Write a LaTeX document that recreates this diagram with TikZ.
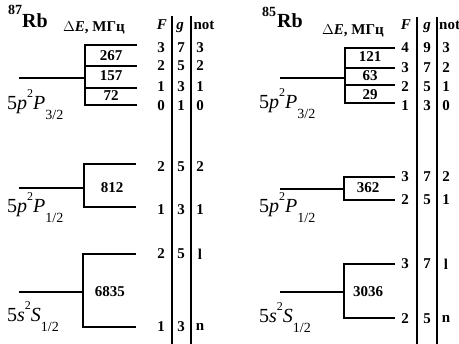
\documentclass[tikz,border=0pt]{standalone}
\usepackage{fontspec}
\setmainfont{Liberation Serif}
\newcommand{\fs}[1]{\fontsize{#1}{#1}\selectfont}
\newcommand{\trm}[3]{5\textit{#1}\raisebox{0.62em}{\fs{12}2}\textit{#2}\raisebox{-0.5em}{\fs{14}#3}}
\begin{document}
\begin{tikzpicture}[x=1pt,y=-1pt,
  lvl/.style={line width=1.7pt},
  bar/.style={line width=1.5pt},
  num/.style={font=\fs{15}\bfseries, inner sep=0pt},
  term/.style={font=\fs{20}, inner sep=0pt, anchor=base west},
  hdr/.style={font=\fs{15}\bfseries, inner sep=0pt, anchor=base},
  de/.style={font=\fs{15}\bfseries, inner sep=0pt, anchor=base west},
  iso/.style={font=\fs{14}\bfseries, inner sep=0pt, anchor=base west},
  el/.style={font=\fs{20}\bfseries, inner sep=0pt, anchor=base west}]
\useasboundingbox (0,0) rectangle (459,344);
% ---------- 87Rb ----------
\node[iso] (iso87) at (8,15) {87};
\node[el] (rb87) at (22,28) {Rb};
\node[de] (de87) at (63,32) {$\Delta$\textit{E}, МГц};
\node[hdr] (hF87) at (162,30) {\textit{F}};
\node[hdr] (hg87) at (180,30) {\textit{g}};
\node[hdr] (hn87) at (204,30) {not};
\coordinate (lb1t) at (172,16); \coordinate (lb1b) at (172,344);
\coordinate (lb2t) at (191,16); \coordinate (lb2b) at (191,344);
\draw[bar] (lb1t) -- (lb1b);
\draw[bar] (lb2t) -- (lb2b);
% 5p P3/2
\coordinate (a0) at (19,78); \coordinate (aj) at (85,78);
\coordinate (a1) at (85,45); \coordinate (a1e) at (137,45);
\coordinate (a2) at (85,66); \coordinate (a2e) at (137,66);
\coordinate (a3) at (85,88); \coordinate (a3e) at (137,88);
\coordinate (a4) at (85,105); \coordinate (a4e) at (137,105);
\draw[lvl] (a0) -- (aj);
\draw[lvl] (a1e) -- (a1) -- (a4) -- (a4e);
\draw[lvl] (a2) -- (a2e);
\draw[lvl] (a3) -- (a3e);
\node[num] (n267) at (111,56) {267};
\node[num] (n157) at (111,76) {157};
\node[num] (n72) at (111,96) {72};
\node[term] (t87a) at (7,110) {\trm{p}{P}{3/2}};
% 5p P1/2
\coordinate (b0) at (19,188); \coordinate (bj) at (84,188);
\coordinate (b1) at (84,164); \coordinate (b1e) at (136,164);
\coordinate (b2) at (84,207); \coordinate (b2e) at (136,207);
\draw[lvl] (b0) -- (bj);
\draw[lvl] (b1e) -- (b1) -- (b2) -- (b2e);
\node[num] (n812) at (112,188) {812};
\node[term] (t87b) at (7,213) {\trm{p}{P}{1/2}};
% 5s S1/2
\coordinate (c0) at (19,292); \coordinate (cj) at (83,292);
\coordinate (c1) at (83,254); \coordinate (c1e) at (136,254);
\coordinate (c2) at (83,327); \coordinate (c2e) at (136,327);
\draw[lvl] (c0) -- (cj);
\draw[lvl] (c1e) -- (c1) -- (c2) -- (c2e);
\node[num] (n6835) at (110,292) {6835};
\node[term] (t87c) at (7,322) {\trm{s}{S}{1/2}};
\foreach \y/\f/\g/\n [count=\k] in {48/3/7/3,66/2/5/2,87/1/3/1,106/0/1/0,167/2/5/2,210/1/3/1,254/2/5/l,327/1/3/n}{
  \node[num] (lF\k) at (161,\y) {\f};
  \node[num] (lg\k) at (181,\y) {\g};
  \node[num] (ln\k) at (200,\y) {\n};
}
% ---------- 85Rb ----------
\node[iso] (iso85) at (262,17) {85};
\node[el] (rb85) at (277,28) {Rb};
\node[de] (de85) at (322,35) {$\Delta$\textit{E}, МГц};
\node[hdr] (hF85) at (406,30) {\textit{F}};
\node[hdr] (hg85) at (427,30) {\textit{g}};
\node[hdr, anchor=base west] (hn85) at (439,30) {not};
\coordinate (rb1t) at (417,17); \coordinate (rb1b) at (417,344);
\coordinate (rb2t) at (437,17); \coordinate (rb2b) at (437,344);
\draw[bar] (rb1t) -- (rb1b);
\draw[bar] (rb2t) -- (rb2b);
% 5p P3/2
\coordinate (d0) at (280,78); \coordinate (dj) at (345,78);
\coordinate (d1) at (345,48); \coordinate (d1e) at (395,48);
\coordinate (d2) at (345,68); \coordinate (d2e) at (395,68);
\coordinate (d3) at (345,85); \coordinate (d3e) at (395,85);
\coordinate (d4) at (345,103); \coordinate (d4e) at (395,103);
\draw[lvl] (d0) -- (dj);
\draw[lvl] (d1e) -- (d1) -- (d4) -- (d4e);
\draw[lvl] (d2) -- (d2e);
\draw[lvl] (d3) -- (d3e);
\node[num] (n121) at (370,57) {121};
\node[num] (n63) at (370,76) {63};
\node[num] (n29) at (370,95) {29};
\node[term] (t85a) at (259,109) {\trm{p}{P}{3/2}};
% 5p P1/2
\coordinate (e0) at (280,189); \coordinate (ej) at (344,189);
\coordinate (e1) at (344,177); \coordinate (e1e) at (395,177);
\coordinate (e2) at (344,200); \coordinate (e2e) at (395,200);
\draw[lvl] (e0) -- (ej);
\draw[lvl] (e1e) -- (e1) -- (e2) -- (e2e);
\node[num] (n362) at (368,188) {362};
\node[term] (t85b) at (259,213) {\trm{p}{P}{1/2}};
% 5s S1/2
\coordinate (f0) at (280,292); \coordinate (fj) at (344,292);
\coordinate (f1) at (344,264); \coordinate (f1e) at (395,264);
\coordinate (f2) at (344,318); \coordinate (f2e) at (395,318);
\draw[lvl] (f0) -- (fj);
\draw[lvl] (f1e) -- (f1) -- (f2) -- (f2e);
\node[num] (n3036) at (368,292) {3036};
\node[term] (t85c) at (259,323) {\trm{s}{S}{1/2}};
\foreach \y/\f/\g/\n [count=\k] in {48/4/9/3,68/3/7/2,87/2/5/1,106/1/3/0,177/3/7/2,200/2/5/1,264/3/7/l,319/2/5/n}{
  \node[num] (rF\k) at (405,\y) {\f};
  \node[num] (rg\k) at (427,\y) {\g};
  \node[num] (rn\k) at (446,\y) {\n};
}
\end{tikzpicture}
\end{document}
